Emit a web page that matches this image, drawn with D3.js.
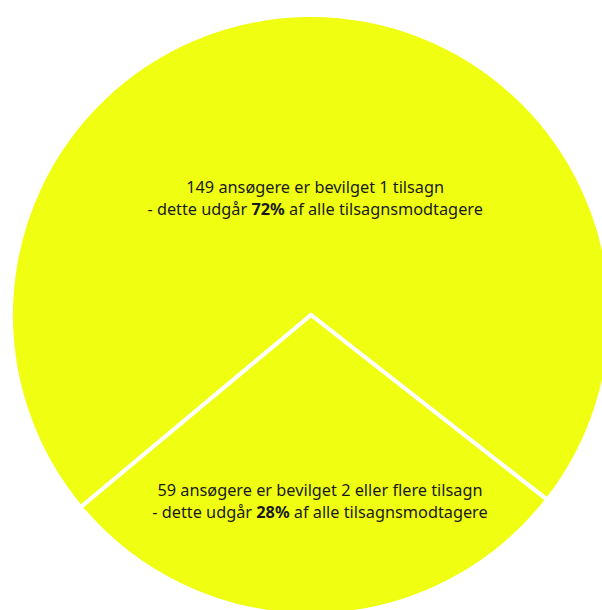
<!DOCTYPE html>
<html>
<head>
<meta charset="utf-8">
<script src="https://cdn.jsdelivr.net/npm/d3@7"></script>
<style>
  html, body { margin: 0; padding: 0; background: #fff; }
  svg { display: block; }
  text { font-family: "Noto Sans", "Open Sans", sans-serif; fill: #1a1a1a; }
</style>
</head>
<body>
<svg id="chart" width="602" height="610"></svg>
<script>
const categories = ["1 tilsagn", "2 eller flere tilsagn"];
const counts = [149, 59];
const percents = ["72%", "28%"];
const line1 = ["149 ansøgere er bevilget 1 tilsagn", "59 ansøgere er bevilget 2 eller flere tilsagn"];
const line2Pre = ["- dette udgår ", "- dette udgår "];
const line2Post = [" af alle tilsagnsmodtagere", " af alle tilsagnsmodtagere"];

const W = 602, H = 610;
const cx = 311, cy = 315, R = 300;
const svg = d3.select("#chart");
const g = svg.append("g").attr("transform", `translate(${cx},${cy})`);

const data = categories.map((c, i) => ({ cat: c, value: counts[i], i }));
const start = (230.15 / 180) * Math.PI;
const pie = d3.pie().sort(null).value(d => d.value).startAngle(start).endAngle(start + 2 * Math.PI);
const arcs = pie(data);
const arc = d3.arc().innerRadius(0).outerRadius(R);

g.selectAll("path.slice").data(arcs).join("path")
  .attr("class", "slice")
  .attr("d", arc)
  .attr("fill", "#f0ff12")
  .attr("stroke", "#ffffff")
  .attr("stroke-width", 4)
  .attr("stroke-linejoin", "miter");

const labelRadius = [116, 187];
const fs = 16.3;
arcs.forEach((a, k) => {
  const mid = (a.startAngle + a.endAngle) / 2;
  const x = Math.sin(mid) * labelRadius[k] + 6;
  const y = -Math.cos(mid) * labelRadius[k];
  g.append("text")
    .attr("text-anchor", "middle")
    .attr("font-size", fs)
    .attr("x", x).attr("y", y - 6)
    .text(line1[k]);
  const t2 = g.append("text")
    .attr("text-anchor", "middle")
    .attr("font-size", fs)
    .attr("x", x).attr("y", y + 16);
  t2.append("tspan").text(line2Pre[k]);
  t2.append("tspan").attr("font-weight", "bold").text(percents[k]);
  t2.append("tspan").text(line2Post[k]);
});
</script>
</body>
</html>
